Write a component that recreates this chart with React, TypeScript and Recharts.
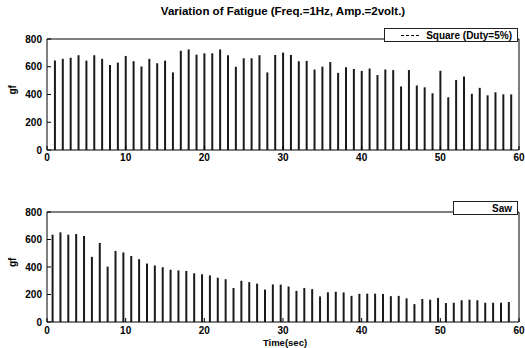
import { BarChart, Bar, XAxis, YAxis, Legend } from "recharts";

const squareSec = [
  1, 2, 3, 4, 5, 6, 7, 8, 9, 10, 11, 12, 13, 14, 15, 16, 17, 18, 19, 20, 21, 22, 23, 24, 25, 26, 27, 28, 29, 30,
  31, 32, 33, 34, 35, 36, 37, 38, 39, 40, 41, 42, 43, 44, 45, 46, 47, 48, 49, 50, 51, 52, 53, 54, 55, 56, 57, 58, 59,
];
const squareGf = [
  645, 657, 665, 683, 644, 683, 657, 612, 630, 678, 640, 602, 657, 625, 644, 559, 715, 725, 687, 697, 697, 725, 683, 600,
  661, 661, 683, 559, 685, 702, 685, 640, 642, 580, 601, 634, 556, 597, 584, 570, 587, 540, 580, 576, 458, 576, 465, 452,
  409, 571, 380, 505, 529, 405, 448, 394, 416, 401, 401,
];

const sawSec = [
  0.7, 1.7, 2.7, 3.7, 4.7, 5.7, 6.7, 7.7, 8.7, 9.7, 10.7, 11.7, 12.7, 13.7, 14.7, 15.7, 16.7, 17.7, 18.7, 19.7, 20.7,
  21.7, 22.7, 23.7, 24.7, 25.7, 26.7, 27.7, 28.7, 29.7, 30.7, 31.7, 32.7, 33.7, 34.7, 35.7, 36.7, 37.7, 38.7, 39.7, 40.7,
  41.7, 42.7, 43.7, 44.7, 45.7, 46.7, 47.7, 48.7, 49.7, 50.7, 51.7, 52.7, 53.7, 54.7, 55.7, 56.7, 57.7, 58.7,
];
const sawGf = [
  635, 652, 635, 640, 626, 474, 575, 403, 517, 506, 480, 457, 425, 411, 398, 380, 375, 371, 354, 347, 339, 322, 311, 247,
  300, 290, 279, 236, 273, 272, 258, 226, 248, 239, 186, 216, 220, 215, 190, 205, 206, 206, 204, 188, 190, 172, 130, 167,
  162, 175, 138, 140, 158, 162, 158, 140, 140, 140, 145,
];

const xTicks = [0, 10, 20, 30, 40, 50, 60];
const yTicks = [0, 200, 400, 600, 800];

const squareData = squareSec.map((t, i) => ({ t, gf: squareGf[i] }));
const sawData = sawSec.map((t, i) => ({ t, gf: sawGf[i] }));

const FONT = "'Liberation Sans', Arial, sans-serif";
const tickStyle = { fontSize: 10, fontWeight: 700, fill: "#000", fontFamily: FONT };

function LegendBox({ label, line }: { label: string; line?: boolean }) {
  return (
    <div
      style={{
        border: "1px solid #222",
        background: "#fff",
        display: "flex",
        alignItems: "center",
        justifyContent: "flex-end",
        gap: 7,
        padding: "0 5px",
        height: 12,
        fontFamily: FONT,
        fontSize: 10,
        fontWeight: 700,
        color: "#000",
        whiteSpace: "nowrap",
      }}
    >
      {line && <span style={{ width: 18, borderTop: "1px dashed #000", display: "inline-block" }} />}
      <span>{label}</span>
    </div>
  );
}

function Panel({
  data,
  legend,
  legendLine,
  legendWidth,
  height,
  marginTop,
  xHeight,
  xMargin,
}: {
  data: { t: number; gf: number }[];
  legend: string;
  legendLine?: boolean;
  legendWidth: number;
  height: number;
  marginTop: number;
  xHeight: number;
  xMargin: number;
}) {
  return (
    <BarChart
      width={525}
      height={height}
      data={data}
      margin={{ top: marginTop, right: 5, bottom: 0, left: 10 }}
    >
      <XAxis
        dataKey="t"
        type="number"
        domain={[0, 60]}
        ticks={xTicks}
        allowDataOverflow
        tickSize={-4}
        tickMargin={xMargin}
        height={xHeight}
        tick={tickStyle}
        stroke="#000"
        interval={0}
      />
      <XAxis
        xAxisId="top"
        orientation="top"
        dataKey="t"
        type="number"
        domain={[0, 60]}
        ticks={xTicks}
        height={1}
        tick={false}
        tickSize={-4}
        stroke="#000"
      />
      <YAxis
        domain={[0, 800]}
        ticks={yTicks}
        width={37}
        tickSize={-4}
        tickMargin={9}
        tick={tickStyle}
        stroke="#000"
        interval={0}
        label={{ value: "gf", angle: -90, position: "insideLeft", offset: 2, style: { ...tickStyle, fontSize: 10 } }}
      />
      <YAxis
        yAxisId="r"
        orientation="right"
        domain={[0, 800]}
        ticks={yTicks}
        width={1}
        tick={false}
        tickSize={-4}
        stroke="#000"
      />
      <Legend
        verticalAlign="top"
        align="right"
        content={() => <LegendBox label={legend} line={legendLine} />}
        wrapperStyle={{ top: marginTop + 4, right: 7, width: legendWidth, left: "auto" }}
      />
      <Bar dataKey="gf" fill="#1a1a1a" barSize={2} isAnimationActive={false} />
    </BarChart>
  );
}

export default function App() {
  return (
    <div style={{ position: "absolute", left: 0, top: 0, width: 525, height: 348, background: "#fff" }}>
      <div
        style={{
          position: "absolute",
          top: 5,
          left: 47,
          width: 472,
          textAlign: "center",
          fontFamily: FONT,
          fontSize: 11.5,
          fontWeight: 700,
          color: "#000",
        }}
      >
        Variation of Fatigue (Freq.=1Hz, Amp.=2volt.)
      </div>
      <div style={{ position: "absolute", top: 0, left: 0 }}>
        <Panel
          data={squareData}
          legend="Square (Duty=5%)"
          legendLine
          legendWidth={134}
          height={168}
          marginTop={24}
          xHeight={18}
          xMargin={8}
        />
      </div>
      <div style={{ position: "absolute", top: 175, left: 0 }}>
        <Panel
          data={sawData}
          legend="Saw"
          legendWidth={65}
          height={173}
          marginTop={22}
          xHeight={26}
          xMargin={9}
        />
      </div>
      <div
        style={{
          position: "absolute",
          top: 338,
          left: 235,
          width: 100,
          textAlign: "center",
          fontFamily: FONT,
          fontSize: 9.5,
          fontWeight: 700,
          color: "#000",
          lineHeight: "10px",
        }}
      >
        Time(sec)
      </div>
    </div>
  );
}
